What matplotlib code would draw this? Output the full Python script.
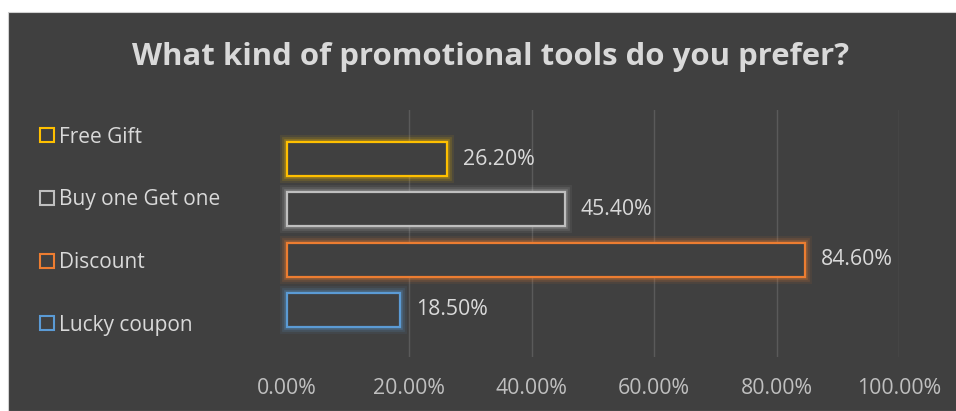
import matplotlib.pyplot as plt
import matplotlib.patheffects as pe
from matplotlib.lines import Line2D
from matplotlib.patches import Rectangle
from matplotlib.ticker import PercentFormatter
import numpy as np

# Respuestas de la encuesta (de arriba hacia abajo)
herramientas = ['Free Gift', 'Buy one Get one', 'Discount', 'Lucky coupon']
porcentajes = [26.2, 45.4, 84.6, 18.5]
colores = ['#FFC000', '#BFBFBF', '#ED7D31', '#5B9BD5']

fondo = '#404040'
texto = '#D9D9D9'
plt.rcParams['font.family'] = ['Open Sans', 'DejaVu Sans']

fig = plt.figure(figsize=(9.56, 4.11), dpi=100, facecolor='white')
# panel oscuro con el borde blanco arriba e izquierda
fig.patches.append(Rectangle((8 / 956, 0), 1, (411 - 12) / 411, transform=fig.transFigure,
                             facecolor=fondo, edgecolor='#D0D0D0', linewidth=0.8, zorder=-5))

ax = fig.add_axes([287 / 956, 54 / 411, 612 / 956, 247 / 411])
ax.set_facecolor('none')

pos = np.arange(len(herramientas))[::-1]
for y, v, c in zip(pos, porcentajes, colores):
    barra = ax.barh(y, v, height=0.675, facecolor=fondo, edgecolor=c, linewidth=1.6, zorder=3)
    for r in barra:
        r.set_clip_on(False)
        r.set_path_effects([pe.Stroke(linewidth=10, foreground=c, alpha=0.08),
                            pe.Stroke(linewidth=7, foreground=c, alpha=0.14),
                            pe.Stroke(linewidth=4, foreground=c, alpha=0.25),
                            pe.Normal()])
    ax.bar_label(barra, labels=[f'{v:.2f}%'], padding=11.5, color=texto, fontsize=15.3)

ax.set_xlim(0, 100)
ax.set_ylim(-0.934, 3.974)
ax.xaxis.set_major_formatter(PercentFormatter(decimals=2))
ax.set_xticks([0, 20, 40, 60, 80, 100])
ax.tick_params(axis='x', length=0, colors='#BFBFBF', labelsize=15.3, pad=15)
ax.set_yticks([])
for s in ax.spines.values():
    s.set_visible(False)
for x in [20, 40, 60, 80, 100]:
    ax.axvline(x, color='#5A5A5A', linewidth=1, zorder=1)

fig.text(491 / 956, 1 - 57 / 411, 'What kind of promotional tools do you prefer?',
         ha='center', va='center', color=texto, fontsize=22.4, fontweight='bold')

handles = [Line2D([], [], marker='s', linestyle='none', markersize=10, markerfacecolor='none',
                  markeredgecolor=c, markeredgewidth=1.5) for c in colores]
fig.legend(handles, herramientas, loc='upper left', bbox_to_anchor=(20 / 956, 1 - 108 / 411),
           frameon=False, labelcolor=texto, fontsize=15, labelspacing=2.0,
           handlelength=0.8, handletextpad=0.15)

plt.savefig('out.png', dpi=100, facecolor=fig.get_facecolor())
